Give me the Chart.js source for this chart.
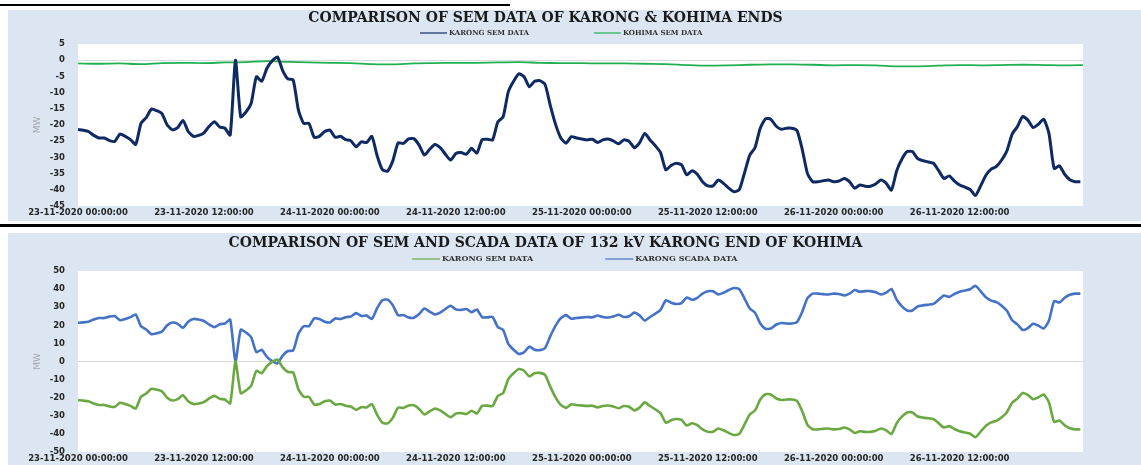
<!DOCTYPE html>
<html>
<head>
<meta charset="utf-8">
<title>SEM / SCADA comparison</title>
<script src="https://cdn.jsdelivr.net/npm/chart.js"></script>
<style>
  html, body { margin: 0; padding: 0; background: #fff; }
  body { width: 1141px; height: 465px; position: relative; overflow: hidden; }
  .rule-top { position: absolute; left: 0; top: 4px; width: 510px; height: 2px; background: #000; }
  .panel { position: absolute; left: 8px; width: 1133px; background: #dce6f2; }
  #panelTop { top: 10px; height: 211px; }
  #panelBottom { top: 233px; height: 232px; }
  .divider { position: absolute; left: 0; top: 224px; width: 1141px; height: 3px; background: #000; }
  canvas { position: absolute; left: 0; top: 0; }
</style>
</head>
<body>
<div class="rule-top"></div>
<div class="panel" id="panelTop"><canvas id="semChart" width="1080" height="211"></canvas></div>
<div class="divider"></div>
<div class="panel" id="panelBottom"><canvas id="scadaChart" width="1080" height="232"></canvas></div>

<script>
// x axis tick labels, one every 12 hours
const xTickLabels = [
  '23-11-2020 00:00:00', '23-11-2020 12:00:00',
  '24-11-2020 00:00:00', '24-11-2020 12:00:00',
  '25-11-2020 00:00:00', '25-11-2020 12:00:00',
  '26-11-2020 00:00:00', '26-11-2020 12:00:00',
];

// half-hourly readings (MW), starting 23-11-2020 00:00
const SEM_STEP_HOURS = 0.5;
const karongSem = [
  -21.4, -21.6, -22.0, -23.2, -24.0, -24.0, -24.8, -25.1, -22.8, -23.5, -24.5, -26.0,
  -19.5, -17.7, -15.1, -15.6, -16.5, -20.0, -21.5, -20.8, -18.6, -22.0, -23.5, -23.2,
  -22.4, -20.4, -19.0, -20.6, -21.0, -23.1, 0.0, -17.5, -16.0, -13.3, -5.1, -6.5,
  -2.5, -0.2, 1.0, -3.2, -5.8, -6.1, -15.4, -19.5, -19.5, -23.8, -23.5, -22.0,
  -21.6, -23.8, -23.5, -24.5, -24.9, -26.7, -25.2, -25.4, -23.5, -29.5, -33.8, -34.2,
  -31.0, -25.5, -25.7, -24.3, -24.2, -26.2, -29.3, -27.5, -26.0, -27.0, -29.0, -30.8,
  -28.8, -28.5, -29.0, -27.2, -28.7, -24.5, -24.4, -24.6, -19.0, -17.5, -9.7, -6.5,
  -4.2, -5.1, -8.2, -6.5, -6.3, -7.5, -14.0, -19.8, -24.0, -25.6, -23.6, -24.0,
  -24.3, -24.6, -24.4, -25.4, -24.6, -24.3, -24.9, -25.8, -24.6, -25.0, -27.0, -25.5,
  -22.6, -24.6, -26.4, -28.5, -33.8, -32.5, -31.8, -32.3, -35.4, -34.1, -35.2, -37.5,
  -38.8, -38.8, -37.0, -38.0, -39.5, -40.6, -40.0, -34.8, -29.3, -27.0, -21.0, -18.1,
  -18.2, -20.3, -21.3, -21.0, -21.0, -21.7, -27.5, -35.0, -37.5, -37.5, -37.2, -37.0,
  -37.5, -37.3, -36.5, -37.5, -39.5, -38.5, -38.9, -38.9, -38.2, -37.0, -38.0, -40.1,
  -34.1, -30.5, -28.2, -28.2, -30.4, -31.0, -31.4, -31.8, -34.1, -36.5, -35.7, -37.3,
  -38.5, -39.2, -39.9, -41.8, -38.8, -35.5, -33.6, -32.8, -30.8, -28.0, -22.8, -20.5,
  -17.4, -18.5, -20.8, -19.8, -18.2, -22.5, -33.4, -32.6, -35.2, -36.9, -37.5, -37.5,
];

const karongScada = [
  21.4, 21.6, 22.0, 23.2, 24.0, 24.0, 24.8, 25.1, 22.8, 23.5, 24.5, 26.0,
  19.5, 17.7, 15.1, 15.6, 16.5, 20.0, 21.5, 20.8, 18.6, 22.0, 23.5, 23.2,
  22.4, 20.4, 19.0, 20.6, 21.0, 23.1, 0.0, 17.5, 16.0, 13.3, 5.1, 6.5,
  2.5, 0.2, -1.0, 3.2, 5.8, 6.1, 15.4, 19.5, 19.5, 23.8, 23.5, 22.0,
  21.6, 23.8, 23.5, 24.5, 24.9, 26.7, 25.2, 25.4, 23.5, 29.5, 33.8, 34.2,
  31.0, 25.5, 25.7, 24.3, 24.2, 26.2, 29.3, 27.5, 26.0, 27.0, 29.0, 30.8,
  28.8, 28.5, 29.0, 27.2, 28.7, 24.5, 24.4, 24.6, 19.0, 17.5, 9.7, 6.5,
  4.2, 5.1, 8.2, 6.5, 6.3, 7.5, 14.0, 19.8, 24.0, 25.6, 23.6, 24.0,
  24.3, 24.6, 24.4, 25.4, 24.6, 24.3, 24.9, 25.8, 24.6, 25.0, 27.0, 25.5,
  22.6, 24.6, 26.4, 28.5, 33.8, 32.5, 31.8, 32.3, 35.4, 34.1, 35.2, 37.5,
  38.8, 38.8, 37.0, 38.0, 39.5, 40.6, 40.0, 34.8, 29.3, 27.0, 21.0, 18.1,
  18.2, 20.3, 21.3, 21.0, 21.0, 21.7, 27.5, 35.0, 37.5, 37.5, 37.2, 37.0,
  37.5, 37.3, 36.5, 37.5, 39.5, 38.5, 38.9, 38.9, 38.2, 37.0, 38.0, 40.1,
  34.1, 30.5, 28.2, 28.2, 30.4, 31.0, 31.4, 31.8, 34.1, 36.5, 35.7, 37.3,
  38.5, 39.2, 39.9, 41.8, 38.8, 35.5, 33.6, 32.8, 30.8, 28.0, 22.8, 20.5,
  17.4, 18.5, 20.8, 19.8, 18.2, 22.5, 33.4, 32.6, 35.2, 36.9, 37.5, 37.5,
];

// kohima end is almost flat, read every 2 hours
const KOHIMA_STEP_HOURS = 2;
const kohimaSem = [
  -1.0, -1.1, -1.0, -1.2, -0.9, -0.8, -0.9, -0.7, -0.6, -0.3, -0.5, -0.7,
  -0.8, -0.9, -1.2, -1.3, -1.0, -0.9, -0.8, -0.8, -0.7, -0.6, -0.8, -0.9,
  -0.9, -1.0, -1.0, -1.1, -1.2, -1.5, -1.7, -1.6, -1.4, -1.3, -1.3, -1.4,
  -1.6, -1.5, -1.6, -1.9, -1.9, -1.7, -1.5, -1.6, -1.5, -1.4, -1.5, -1.6,
  -1.5,
];

const toPoints = (values, step) => values.map((v, i) => ({ x: i * step, y: v }));

// white plot area on the blue panel
const plotBackground = {
  id: 'plotBackground',
  beforeDraw(chart) {
    const { ctx, chartArea: a } = chart;
    ctx.save();
    ctx.fillStyle = '#ffffff';
    ctx.fillRect(a.left, a.top, a.right - a.left, a.bottom - a.top);
    ctx.restore();
  },
};

// excel style legend: short line + label, spaced apart
const lineLegend = {
  id: 'lineLegend',
  afterDraw(chart, args, opts) {
    const { ctx } = chart;
    ctx.save();
    ctx.font = `bold ${opts.fontSize}px "DejaVu Serif"`;
    ctx.textBaseline = 'middle';
    let x = opts.x;
    chart.data.datasets.forEach(ds => {
      ctx.globalAlpha = 0.6;
      ctx.strokeStyle = ds.borderColor;
      ctx.lineWidth = 2;
      ctx.beginPath();
      ctx.moveTo(x, opts.y);
      ctx.lineTo(x + opts.lineLength, opts.y);
      ctx.stroke();
      ctx.globalAlpha = 1;
      x += opts.lineLength + 2;
      ctx.fillStyle = '#333333';
      ctx.fillText(ds.label, x, opts.y);
      x += ctx.measureText(ds.label).width + opts.gap;
    });
    ctx.restore();
  },
};

const tickFont = { family: 'DejaVu Sans', weight: 'bold', size: 8.5 };

const makeOptions = ({ title, titlePadding, yMin, yMax, yStep, xAxisHeight, legend }) => ({
  responsive: false,
  animation: false,
  layout: { padding: { left: 0, right: 5, top: 0, bottom: 0 } },
  elements: { point: { radius: 0 } },
  scales: {
    x: {
      type: 'linear',
      min: 0,
      max: 95.75,
      afterFit: scale => { scale.height = xAxisHeight; },
      grid: { display: false, drawTicks: false },
      border: { display: false },
      ticks: {
        stepSize: 12,
        includeBounds: false,
        autoSkip: false,
        maxRotation: 0,
        minRotation: 0,
        padding: 2,
        color: '#262626',
        font: tickFont,
        callback: v => xTickLabels[v / 12] ?? '',
      },
    },
    y: {
      min: yMin,
      max: yMax,
      afterFit: scale => { scale.width = 70; },
      grid: {
        drawTicks: true,
        tickLength: 10,
        tickColor: 'rgba(0,0,0,0)',
        color: c => (c.tick && c.tick.value === 0 ? '#d9d9d9' : 'rgba(0,0,0,0)'),
      },
      border: { display: false },
      ticks: { stepSize: yStep, padding: 3, color: '#262626', font: tickFont },
      title: {
        display: true,
        text: 'MW',
        color: '#a6a6a6',
        font: { family: 'DejaVu Sans', size: 9 },
        padding: { top: 24, bottom: 0 },
      },
    },
  },
  plugins: {
    legend: { display: false },
    tooltip: { enabled: false },
    title: {
      display: true,
      text: title,
      color: '#1a1a1a',
      font: { family: 'DejaVu Serif', weight: 'bold', size: 14, lineHeight: 1 },
      padding: titlePadding,
    },
    lineLegend: legend,
  },
});

new Chart(document.getElementById('semChart'), {
  type: 'line',
  data: {
    datasets: [
      {
        label: 'KARONG SEM DATA',
        data: toPoints(karongSem, SEM_STEP_HOURS),
        borderColor: '#0f2a62',
        borderWidth: 3,
        tension: 0.2,
      },
      {
        label: 'KOHIMA SEM DATA',
        data: toPoints(kohimaSem, KOHIMA_STEP_HOURS),
        borderColor: '#20b050',
        borderWidth: 1.8,
        tension: 0.3,
      },
    ],
  },
  options: makeOptions({
    title: 'COMPARISON OF SEM DATA OF KARONG & KOHIMA ENDS',
    titlePadding: { top: 1, bottom: 19 },
    yMin: -45, yMax: 5, yStep: 5,
    xAxisHeight: 15,
    legend: { x: 412, y: 23, lineLength: 27, gap: 65, fontSize: 7 },
  }),
  plugins: [plotBackground, lineLegend],
});

new Chart(document.getElementById('scadaChart'), {
  type: 'line',
  data: {
    datasets: [
      {
        label: 'KARONG SEM DATA',
        data: toPoints(karongSem, SEM_STEP_HOURS),
        borderColor: '#6aa842',
        borderWidth: 2.6,
        tension: 0.2,
      },
      {
        label: 'KARONG SCADA DATA',
        data: toPoints(karongScada, SEM_STEP_HOURS),
        borderColor: '#4472c4',
        borderWidth: 2.6,
        tension: 0.2,
      },
    ],
  },
  options: makeOptions({
    title: 'COMPARISON OF SEM AND SCADA DATA OF 132 kV KARONG END OF KOHIMA',
    titlePadding: { top: 3, bottom: 21 },
    yMin: -50, yMax: 50, yStep: 10,
    xAxisHeight: 13,
    legend: { x: 404, y: 26, lineLength: 28, gap: 72, fontSize: 8 },
  }),
  plugins: [plotBackground, lineLegend],
});
</script>
</body>
</html>
